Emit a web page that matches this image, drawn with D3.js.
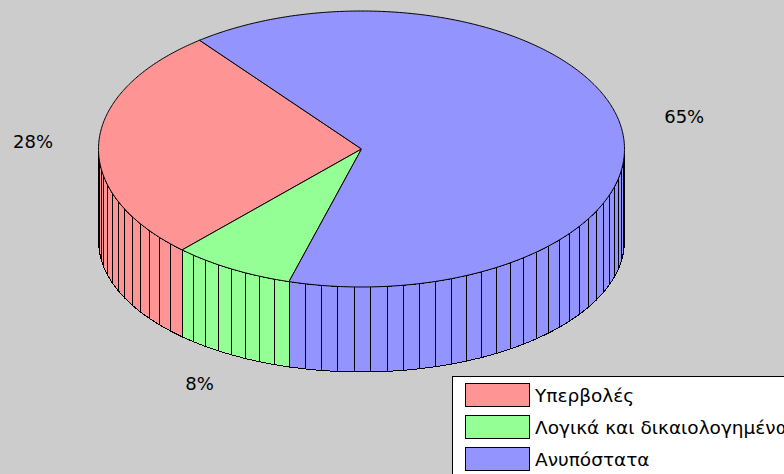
<!DOCTYPE html>
<html>
<head>
<meta charset="utf-8">
<script src="https://cdn.jsdelivr.net/npm/d3@7/dist/d3.min.js"></script>
<style>
    html, body { margin: 0; padding: 0; background: #cccccc; overflow: hidden; }
    #chart-container { width: 784px; height: 474px; }
    text { font-family: "DejaVu Sans", Verdana, sans-serif; fill: #000; }
</style>
</head>
<body>
<div id="chart-container"></div>
<script>
// data
const categories = ["Υπερβολές", "Λογικά και δικαιολογημένα", "Ανυπόστατα"];
const shares = [27.5, 7.5, 65.0];
const colors = ["#ff9494", "#94ff94", "#9494ff"];

const width = 784;
const height = 474;

const container = d3.select("#chart-container");
const svg = container.append("svg")
    .attr("width", width)
    .attr("height", height);

svg.append("rect")
    .attr("width", width)
    .attr("height", height)
    .attr("fill", "#cccccc");

// ellipse geometry (top face + bottom rim, the bottom one is a bit flatter)
const cx = 361.5;
const rx = 263;
const topCy = 149, topRy = 138;
const botCy = 241, botRy = 131;

const topPt = a => [cx + rx * Math.sin(a), topCy - topRy * Math.cos(a)];
const botPt = a => [cx + rx * Math.sin(a), botCy - botRy * Math.cos(a)];

// slices go counter-clockwise, starting up-left
const start = -38 * Math.PI / 180;
const pie = d3.pie()
    .sort(null)
    .value(d => d)
    .startAngle(start)
    .endAngle(start - 2 * Math.PI);

const total = d3.sum(shares);
const arcs = pie(shares).map((d, i) => ({
    ...d,
    name: categories[i],
    color: colors[i],
    pct: Math.round(d.value / total * 100)
}));

// side wall, split into thin strips (100 per full turn)
const stripStep = 2 * Math.PI / 100;
const strips = [];
arcs.forEach(d => {
    const span = d.endAngle - d.startAngle;
    const n = Math.max(1, Math.ceil(Math.abs(span) / stripStep));
    for (let k = 0; k < n; k++) {
        const a0 = d.startAngle + span * k / n;
        const a1 = d.startAngle + span * (k + 1) / n;
        const mid = (a0 + a1) / 2;
        // only the front half can be seen
        if (Math.cos(mid) < 0) strips.push({ a0, a1, color: d.color });
    }
});

const line = d3.line();

svg.append("g")
    .attr("class", "side")
    .selectAll("path")
    .data(strips)
    .join("path")
    .attr("d", s => line([topPt(s.a0), topPt(s.a1), botPt(s.a1), botPt(s.a0)]) + "Z")
    .attr("fill", s => s.color)
    .attr("stroke", "#000")
    .attr("stroke-width", 1)
    .attr("shape-rendering", "crispEdges");

// top face
function slicePath(d) {
    const pts = [[cx, topCy]];
    const steps = Math.max(8, Math.ceil(Math.abs(d.endAngle - d.startAngle) / 0.01));
    for (let k = 0; k <= steps; k++) {
        pts.push(topPt(d.startAngle + (d.endAngle - d.startAngle) * k / steps));
    }
    return line(pts) + "Z";
}

svg.append("g")
    .attr("class", "top")
    .selectAll("path")
    .data(arcs)
    .join("path")
    .attr("d", slicePath)
    .attr("fill", d => d.color)
    .attr("stroke", "#000")
    .attr("stroke-width", 1)
    .attr("stroke-linejoin", "round");

// percentage labels, pushed down by the rim when they sit on the front half
svg.append("g")
    .attr("class", "labels")
    .selectAll("text")
    .data(arcs)
    .join("text")
    .attr("x", d => cx + rx * 1.25 * Math.sin((d.startAngle + d.endAngle) / 2))
    .attr("y", d => {
        const a = (d.startAngle + d.endAngle) / 2;
        return Math.cos(a) < 0
            ? botCy - botRy * 1.25 * Math.cos(a)
            : topCy - topRy * 1.25 * Math.cos(a);
    })
    .attr("text-anchor", "middle")
    .attr("dominant-baseline", "central")
    .style("font-size", "18px")
    .text(d => d.pct + "%");

// legend (runs off the bottom-right corner like the original)
const legend = svg.append("g").attr("class", "legend");

legend.append("rect")
    .attr("x", 452.5)
    .attr("y", 376.5)
    .attr("width", 400)
    .attr("height", 200)
    .attr("fill", "#fff")
    .attr("stroke", "#000");

const items = legend.selectAll(".item")
    .data(arcs)
    .join("g")
    .attr("class", "item")
    .attr("transform", (d, i) => `translate(465, ${383 + i * 32})`);

items.append("rect")
    .attr("x", 0.5)
    .attr("y", 0.5)
    .attr("width", 64)
    .attr("height", 23)
    .attr("fill", d => d.color)
    .attr("stroke", "#000")
    .attr("stroke-width", 1);

items.append("text")
    .attr("x", 70)
    .attr("y", 12)
    .attr("dominant-baseline", "central")
    .style("font-size", "18.5px")
    .text(d => d.name);
</script>
</body>
</html>
